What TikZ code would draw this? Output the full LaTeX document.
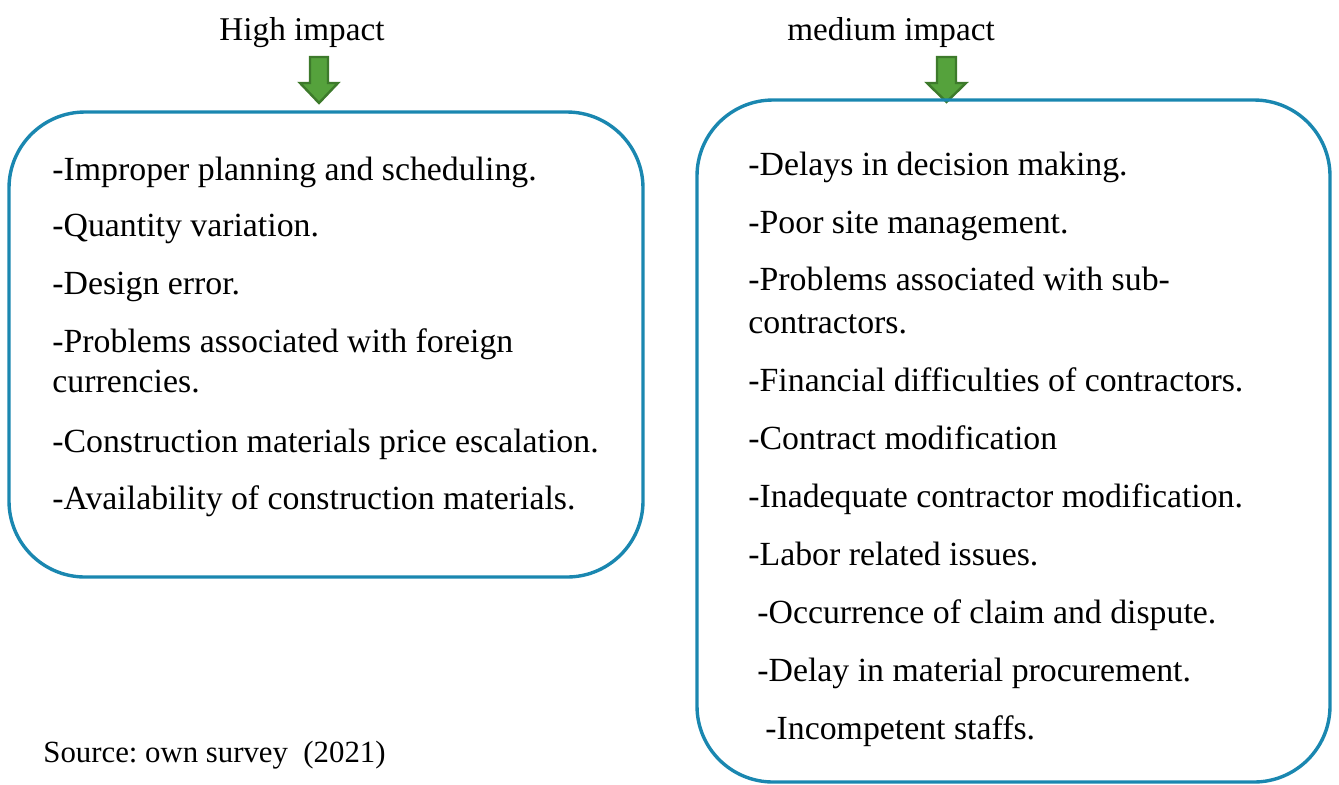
\documentclass[tikz,border=0pt]{standalone}
\usepackage{fontspec}
\setmainfont{Liberation Serif}
\definecolor{boxblue}{HTML}{1A87B0}
\definecolor{arrowgreen}{HTML}{55A23C}
\definecolor{arrowdark}{HTML}{3D7A2B}
\begin{document}
\begin{tikzpicture}[x=0.5pt,y=-0.5pt,
  item/.style={anchor=base west,inner sep=0pt,font=\fontsize{16.9}{20}\selectfont},
  head/.style={anchor=base,inner sep=0pt,font=\fontsize{16.6}{20}\selectfont},
  note/.style={anchor=base west,inner sep=0pt,font=\fontsize{15.4}{18}\selectfont},
  box/.style={boxblue,line width=1.7pt,rounded corners=38pt},
  blockarrow/.style={fill=arrowgreen,draw=arrowdark,line width=1.2pt,line join=miter}]

  \useasboundingbox (0,0) rectangle (1339,784);

  % headings
  \node[head] (high) at (302,40) {High impact};
  \node[head] (medium) at (891,40) {medium impact};

  % green block arrows
  \draw[blockarrow] (310,57) -- (328,57) -- (328,83) -- (338,83) -- (319,103)
    -- (300,83) -- (310,83) -- cycle;
  \draw[blockarrow] (937,57) -- (956,57) -- (956,83) -- (966,83) -- (946.5,102)
    -- (927,83) -- (937,83) -- cycle;

  % rounded boxes
  \draw[box] (9,112) rectangle (643,577);
  \draw[box] (697,100) rectangle (1330,782);

  % high impact items
  \node[item] (h1) at (52,180) {-Improper planning and scheduling.};
  \node[item] (h2) at (52,236) {-Quantity variation.};
  \node[item] (h3) at (52,294) {-Design error.};
  \node[item] (h4) at (52,352) {-Problems associated with foreign};
  \node[item] (h4b) at (52,392) {currencies.};
  \node[item] (h5) at (52,452) {-Construction materials price escalation.};
  \node[item] (h6) at (52,509) {-Availability of construction materials.};

  % medium impact items
  \node[item] (m1) at (748,175) {-Delays in decision making.};
  \node[item] (m2) at (748,233) {-Poor site management.};
  \node[item] (m3) at (748,290) {-Problems associated with sub-};
  \node[item] (m3b) at (748,333) {contractors.};
  \node[item] (m4) at (748,391) {-Financial difficulties of contractors.};
  \node[item] (m5) at (748,449) {-Contract modification};
  \node[item] (m6) at (748,507) {-Inadequate contractor modification.};
  \node[item] (m7) at (748,565) {-Labor related issues.};
  \node[item] (m8) at (757,623) {-Occurrence of claim and dispute.};
  \node[item] (m9) at (757,681) {-Delay in material procurement.};
  \node[item] (m10) at (765,739) {-Incompetent staffs.};

  % source note
  \node[note] (src) at (43,762) {Source:\ own survey\ \ (2021)};

\end{tikzpicture}
\end{document}
